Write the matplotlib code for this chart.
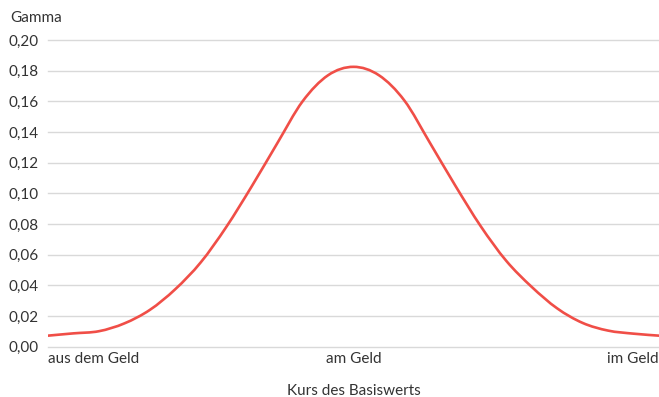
import matplotlib
matplotlib.use("Agg")
import matplotlib.pyplot as plt
from matplotlib.path import Path
from matplotlib.patches import PathPatch
import numpy as np

# Gamma values, evenly spaced along the underlying price
gamma = [0.0072, 0.0087, 0.0101, 0.0152, 0.0240, 0.0375, 0.0550, 0.0780,
         0.1045, 0.1325, 0.1600, 0.1770, 0.1825, 0.1770, 0.1605, 0.1330,
         0.1050, 0.0785, 0.0560, 0.0390, 0.0250, 0.0155, 0.0105, 0.0085, 0.0072]
positions = list(range(len(gamma)))
tick_pos = [0, 12, 24]
tick_labels = ["aus dem Geld", "am Geld", "im Geld"]
y_ticks = [0.00, 0.02, 0.04, 0.06, 0.08, 0.10, 0.12, 0.14, 0.16, 0.18, 0.20]

plt.rcParams['font.family'] = ['Lato', 'DejaVu Sans']
text_color = '#333333'


def smooth_path(xs, ys):
    # catmull-rom spline drawn as bezier segments through the read points
    pts = np.column_stack([xs, ys]).astype(float)
    pad = np.vstack([pts[0], pts, pts[-1]])
    verts = [pts[0]]
    codes = [Path.MOVETO]
    for i in range(1, len(pad) - 2):
        p0, p1, p2, p3 = pad[i - 1], pad[i], pad[i + 1], pad[i + 2]
        c1 = p1 + (p2 - p0) / 6.0
        c2 = p2 - (p3 - p1) / 6.0
        verts += [c1, c2, p2]
        codes += [Path.CURVE4] * 3
    return Path(verts, codes)


fig = plt.figure(figsize=(6.59, 3.97), dpi=100)
ax = fig.add_axes([48 / 659, 50.3 / 397, 611 / 659, 306.7 / 397])

ax.add_patch(PathPatch(smooth_path(positions, gamma), facecolor='none',
                       edgecolor='#f04e47', lw=1.9, capstyle='round', zorder=3))
ax.set_xlim(0, len(gamma) - 1)
ax.set_ylim(0, 0.20)

ax.set_yticks(y_ticks)
ax.set_yticklabels([("%.2f" % v).replace('.', ',') for v in y_ticks])
ax.set_xticks(tick_pos)
ax.set_xticklabels(tick_labels)
xl = ax.get_xticklabels()
xl[0].set_ha('left')
xl[2].set_ha('right')

ax.grid(axis='y', color='#d9d9d9', lw=1)
for gl in ax.get_ygridlines():
    gl.set_clip_on(False)
ax.set_axisbelow(True)
for s in ax.spines.values():
    s.set_visible(False)
ax.tick_params(axis='both', length=0, labelsize=11, colors=text_color)
ax.tick_params(axis='y', pad=7)
ax.tick_params(axis='x', pad=4)

ax.set_xlabel("Kurs des Basiswerts", fontsize=11, color=text_color, labelpad=13)
fig.text(10 / 659, 1 - 18 / 397, "Gamma", fontsize=11, color=text_color,
         ha='left', va='center')

fig.savefig("out.png", dpi=100)
